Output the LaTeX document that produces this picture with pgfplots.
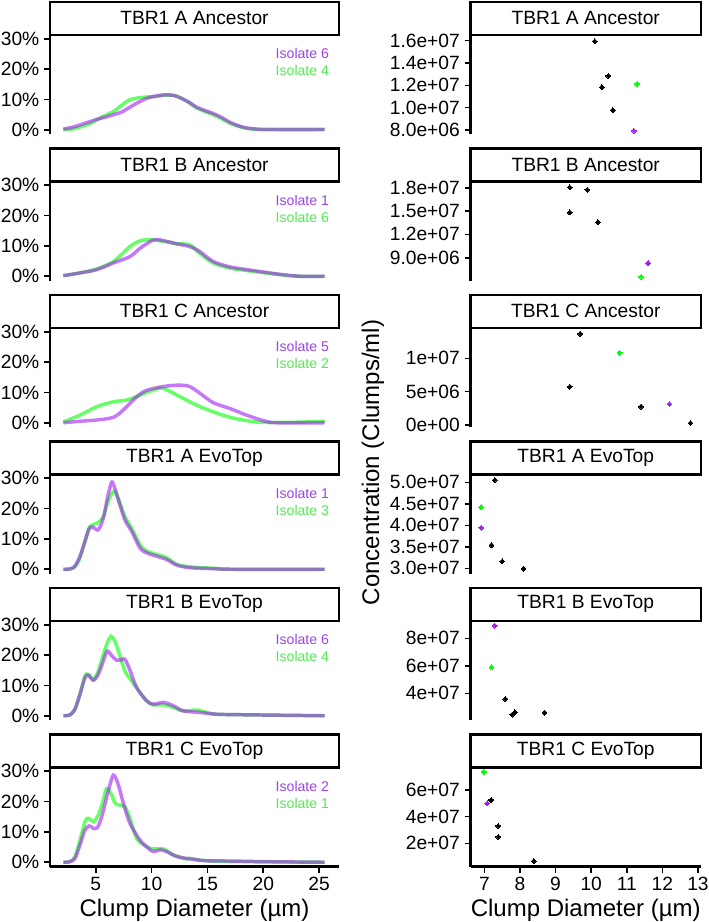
\documentclass[border=0pt]{standalone}
\usepackage{fontspec}
\setmainfont{Liberation Sans}
\usepackage{pgfplots}
\pgfplotsset{compat=1.18}
\definecolor{rpurple}{HTML}{A020F0}
\definecolor{rgreen}{HTML}{00FF00}
\definecolor{tpurple}{HTML}{9A45E6}
\definecolor{tgreen}{HTML}{55E855}
\def\PX{0.75pt}
\tikzset{
  isoP/.style={font=\fontsize{10.6}{12}\selectfont, text=tpurple},
  isoG/.style={font=\fontsize{10.6}{12}\selectfont, text=tgreen},
}
\pgfplotsset{
  every axis title shift=0pt,
  panel/.style={scale only axis, height=73.5pt,
    axis x line*=bottom, axis y line*=left,
    axis line style={line width=1.8pt, black},
    tick style={line width=1.2pt, black}, major tick length=4.5pt, tick align=outside,
    tick label style={font=\fontsize{14.4}{16}\selectfont, black},
    /pgf/number format/assume math mode=true,
    title style={at={(0.5,1)}, anchor=south, draw=black, line width=1.8pt,
      minimum height=24.75pt, inner sep=0pt, font=\fontsize{14.4}{16}\selectfont},
    scaled y ticks=false, scaled x ticks=false},
  leftpanel/.style={panel, width=216.75pt, xmin=0.909, xmax=26.78, ymin=-1.4, ymax=30.9,
    ytick={0,10,20,30}, yticklabels={0\%,10\%,20\%,30\%},
    title style={minimum width=216.75pt}},
  rightpanel/.style={panel, width=172.875pt, xmin=6.61, xmax=13.085,
    title style={minimum width=172.875pt}},
  nox/.style={hide x axis},
  gline/.style={line width=2.6pt, opacity=0.6, smooth, tension=0.5, no markers, color=rgreen},
  pline/.style={line width=2.6pt, opacity=0.6, smooth, tension=0.5, no markers, color=rpurple},
  pt/.style={only marks, color=#1, mark=square*, mark size=1.3pt,
    mark options={rotate=45, draw=#1, fill=#1, line width=0pt}},
}
\begin{document}
\begin{tikzpicture}
\useasboundingbox (0,0) rectangle (709*\PX,-922*\PX);

% ---------------- Left column ----------------
\begin{axis}[leftpanel, nox, at={(50*\PX,-36*\PX)}, anchor=north west, title={TBR1 A Ancestor}]
\addplot[gline] coordinates {(2.1,0)(3.0,0.3)(3.6,0.9)(4.5,2.0)(5.1,3.3)(6.0,5.0)(6.6,6.0)(7.3,8.0)(8.0,9.8)(8.8,10.5)(9.6,10.8)(10.5,11.0)(11.2,11.4)(12.0,11.3)(12.6,10.5)(13.4,8.8)(14.0,7.3)(14.8,6.0)(15.5,5.0)(16.3,3.6)(17.0,2.2)(17.8,1.1)(18.5,0.5)(19.5,0.1)(21,0)(25.5,0)};
\addplot[pline] coordinates {(2.1,0.2)(3.0,0.9)(3.6,1.6)(4.5,2.7)(5.1,3.4)(6.0,4.3)(6.6,5.0)(7.3,5.8)(8.0,7.3)(8.8,9.0)(9.6,10.4)(10.5,11.2)(11.2,11.5)(12.0,11.3)(12.6,10.5)(13.4,9.0)(14.0,7.5)(14.8,6.3)(15.5,5.4)(16.3,4.0)(17.0,2.5)(17.8,1.3)(18.5,0.6)(19.5,0.2)(21,0.1)(25.5,0.1)};
\node[isoP] at (axis cs:23.5,25) {Isolate 6};
\node[isoG] at (axis cs:23.5,19.4) {Isolate 4};
\end{axis}

\begin{axis}[leftpanel, nox, at={(50*\PX,-182.5*\PX)}, anchor=north west, title={TBR1 B Ancestor}]
\addplot[gline] coordinates {(2.1,0.2)(3.6,1.1)(5.1,2.4)(6.6,4.9)(8.07,9.8)(9.0,11.7)(9.9,12.0)(11.1,11.5)(12.25,10.7)(13.4,10.4)(14.3,7.6)(15.5,4.4)(17.0,2.7)(18.5,1.9)(20.0,1.2)(21.8,0.4)(23.3,0)(25.5,0)};
\addplot[pline] coordinates {(2.1,0.2)(3.6,1.1)(5.1,2.2)(6.6,4.4)(8.07,6.5)(9.0,9.3)(10.2,12.0)(11.1,11.7)(12.25,10.7)(13.4,9.8)(14.3,8.2)(15.5,4.9)(17.0,3.1)(18.5,2.2)(20.0,1.4)(21.8,0.5)(23.3,0)(25.5,0)};
\node[isoP] at (axis cs:23.5,25) {Isolate 1};
\node[isoG] at (axis cs:23.5,19.4) {Isolate 6};
\end{axis}

\begin{axis}[leftpanel, nox, at={(50*\PX,-329*\PX)}, anchor=north west, title={TBR1 C Ancestor}]
\addplot[gline] coordinates {(2.1,0.3)(3.59,2.5)(5.09,5.3)(6.58,6.9)(7.78,7.5)(8.97,9.1)(10.16,10.8)(11.06,11.3)(12.55,8.6)(14.04,5.8)(15.53,3.6)(17.02,1.8)(18.52,0.7)(20.0,0.1)(23.3,0.2)(25.5,0.5)};
\addplot[pline] coordinates {(2.1,0)(3.59,0.5)(5.09,0.9)(6.58,1.8)(7.47,4.2)(8.37,7.5)(9.26,10.2)(10.16,11.3)(11.36,12.1)(12.55,12.4)(13.44,11.9)(14.34,9.7)(15.53,6.6)(17.02,4.7)(18.52,2.5)(20.0,0.7)(21.2,0)(25.5,0)};
\node[isoP] at (axis cs:23.5,25) {Isolate 5};
\node[isoG] at (axis cs:23.5,19.4) {Isolate 2};
\end{axis}

\begin{axis}[leftpanel, nox, at={(50*\PX,-475.5*\PX)}, anchor=north west, title={TBR1 A EvoTop}]
\addplot[gline] coordinates {(2.1,0)(2.7,0.1)(3.15,0.8)(3.59,3.8)(4.04,9.2)(4.48,14.1)(5.14,15.2)(5.68,17.3)(6.04,21.7)(6.43,24.9)(6.73,25.5)(7.18,21.7)(7.62,17.3)(8.22,13.5)(8.97,8.1)(9.57,6.0)(10.46,4.9)(11.36,3.8)(12.25,1.6)(13.44,0.8)(15.53,0.3)(17.3,0)(25.5,0)};
\addplot[pline] coordinates {(2.1,0)(2.7,0.1)(3.15,1.1)(3.59,4.3)(4.04,9.2)(4.43,13.5)(4.79,13.8)(5.23,13.0)(5.68,16.8)(6.04,23.3)(6.43,28.7)(6.73,26.5)(7.18,21.1)(7.62,16.2)(8.22,12.5)(8.97,7.0)(9.57,5.4)(10.46,4.3)(11.36,3.2)(12.25,1.4)(13.44,0.5)(15.53,0.2)(17.3,0)(25.5,0)};
\node[isoP] at (axis cs:23.5,25) {Isolate 1};
\node[isoG] at (axis cs:23.5,19.4) {Isolate 3};
\end{axis}

\begin{axis}[leftpanel, nox, at={(50*\PX,-622*\PX)}, anchor=north west, title={TBR1 B EvoTop}]
\addplot[gline] coordinates {(2.1,0)(2.7,0.3)(3.15,2.2)(3.59,7.1)(4.04,13.1)(4.34,13.6)(4.79,12.0)(5.23,14.7)(5.68,20.2)(6.04,24.0)(6.37,26.2)(6.73,24.5)(7.18,19.6)(7.62,14.7)(8.22,11.5)(8.97,7.6)(9.57,4.9)(10.16,3.6)(11.06,3.6)(11.95,2.7)(12.84,1.6)(14.04,1.9)(14.94,1.1)(15.83,0.5)(18.81,0.3)(25.5,0)};
\addplot[pline] coordinates {(2.1,0)(2.7,0.3)(3.15,2.2)(3.59,7.1)(4.04,12.5)(4.34,13.4)(4.79,11.7)(5.23,13.6)(5.68,18.0)(6.04,21.3)(6.43,19.8)(6.88,18.3)(7.33,18.5)(7.62,18.6)(8.07,15.0)(8.67,9.3)(9.57,4.9)(10.16,3.8)(11.06,4.4)(11.95,3.3)(12.84,1.6)(14.34,1.1)(15.83,0.5)(18.81,0.3)(25.5,0)};
\node[isoP] at (axis cs:23.5,25) {Isolate 6};
\node[isoG] at (axis cs:23.5,19.4) {Isolate 4};
\end{axis}

\begin{axis}[leftpanel, at={(50*\PX,-768.5*\PX)}, anchor=north west, title={TBR1 C EvoTop}, xtick={5,10,15,20,25}]
\addplot[gline] coordinates {(2.1,0)(2.7,0.2)(3.15,1.9)(3.59,7.3)(4.04,13.4)(4.34,14.5)(4.79,13.4)(5.23,15.5)(5.68,20.5)(5.98,24.3)(6.43,22.2)(6.73,19.5)(7.18,18.8)(7.62,18.3)(8.07,14.5)(8.67,7.9)(9.57,5.1)(10.16,4.4)(11.06,4.4)(11.95,2.4)(13.14,1.1)(13.44,1.3)(14.34,0.7)(16,0.3)(18,0.2)(25.5,0)};
\addplot[pline] coordinates {(2.1,0)(2.7,0.2)(3.15,1.3)(3.59,5.7)(4.04,10.6)(4.43,12.0)(4.79,11.2)(5.14,11.4)(5.54,15.0)(6.13,23.5)(6.58,28.7)(7.03,25.5)(7.47,19.5)(8.07,12.8)(8.97,7.3)(9.57,5.1)(10.16,3.5)(10.76,4.1)(11.36,3.5)(12.25,1.9)(13.44,1.1)(14.94,0.5)(17.32,0.4)(20.0,0.2)(25.5,0)};
\node[isoP] at (axis cs:23.5,25) {Isolate 2};
\node[isoG] at (axis cs:23.5,19.4) {Isolate 1};
\end{axis}

% ---------------- Right column ----------------
\begin{axis}[rightpanel, nox, at={(470.5*\PX,-36*\PX)}, anchor=north west, title={TBR1 A Ancestor},
  ymin=7.64e6, ymax=1.642e7, ytick={8e6,1e7,1.2e7,1.4e7,1.6e7},
  yticklabels={8.0e+06,1.0e+07,1.2e+07,1.4e+07,1.6e+07}]
\addplot[pt=rpurple] coordinates {(11.20,7.94e6)};
\addplot[pt=rgreen] coordinates {(11.29,1.215e7)};
\addplot[pt=black] coordinates {(10.10,1.595e7)(10.48,1.284e7)(10.30,1.183e7)(10.61,9.79e6)};
\end{axis}

\begin{axis}[rightpanel, nox, at={(470.5*\PX,-182.5*\PX)}, anchor=north west, title={TBR1 B Ancestor},
  ymin=6.07e6, ymax=1.867e7, ytick={9e6,1.2e7,1.5e7,1.8e7},
  yticklabels={9.0e+06,1.2e+07,1.5e+07,1.8e+07}]
\addplot[pt=rpurple] coordinates {(11.60,8.32e6)};
\addplot[pt=rgreen] coordinates {(11.40,6.55e6)};
\addplot[pt=black] coordinates {(9.40,1.805e7)(9.89,1.774e7)(9.40,1.483e7)(10.19,1.358e7)};
\end{axis}

\begin{axis}[rightpanel, nox, at={(470.5*\PX,-329*\PX)}, anchor=north west, title={TBR1 C Ancestor},
  ymin=-3e5, ymax=1.44e7, ytick={0,5e6,1e7},
  yticklabels={0e+00,5e+06,1e+07}]
\addplot[pt=rpurple] coordinates {(12.20,3.15e6)};
\addplot[pt=rgreen] coordinates {(10.80,1.084e7)};
\addplot[pt=black] coordinates {(9.69,1.369e7)(9.40,5.75e6)(11.40,2.75e6)(12.79,3e5)};
\end{axis}

\begin{axis}[rightpanel, nox, at={(470.5*\PX,-475.5*\PX)}, anchor=north west, title={TBR1 A EvoTop},
  ymin=2.879e7, ymax=5.158e7, ytick={3e7,3.5e7,4e7,4.5e7,5e7},
  yticklabels={3.0e+07,3.5e+07,4.0e+07,4.5e+07,5.0e+07}]
\addplot[pt=rpurple] coordinates {(6.91,3.944e7)};
\addplot[pt=rgreen] coordinates {(6.91,4.423e7)};
\addplot[pt=black] coordinates {(7.29,5.053e7)(7.20,3.54e7)(7.50,3.163e7)(8.10,2.99e7)};
\end{axis}

\begin{axis}[rightpanel, nox, at={(470.5*\PX,-622*\PX)}, anchor=north west, title={TBR1 B EvoTop},
  ymin=2.058e7, ymax=9.185e7, ytick={4e7,6e7,8e7},
  yticklabels={4e+07,6e+07,8e+07}]
\addplot[pt=rpurple] coordinates {(7.29,8.92e7)};
\addplot[pt=rgreen] coordinates {(7.20,5.9e7)};
\addplot[pt=black] coordinates {(7.59,3.585e7)(7.78,2.45e7)(7.86,2.62e7)(8.69,2.6e7)};
\end{axis}

\begin{axis}[rightpanel, at={(470.5*\PX,-768.5*\PX)}, anchor=north west, title={TBR1 C EvoTop},
  ymin=2.6e6, ymax=7.61e7, ytick={2e7,4e7,6e7},
  yticklabels={2e+07,4e+07,6e+07}, xtick={7,8,9,10,11,12,13}]
\addplot[pt=rpurple] coordinates {(7.08,5.0e7)};
\addplot[pt=rgreen] coordinates {(6.98,7.35e7)};
\addplot[pt=black] coordinates {(7.19,5.25e7)(7.39,3.3e7)(7.39,2.48e7)(8.39,6.7e6)};
\end{axis}

% axis titles
\node[rotate=90, font=\fontsize{18}{20}\selectfont] at (373*\PX,-462.5*\PX) {Concentration (Clumps/ml)};
\node[anchor=base, font=\fontsize{18}{20}\selectfont] at (194.5*\PX,-916.5*\PX) {Clump Diameter (µm)};
\node[anchor=base, font=\fontsize{18}{20}\selectfont] at (585.75*\PX,-916.5*\PX) {Clump Diameter (µm)};
\end{tikzpicture}
\end{document}
